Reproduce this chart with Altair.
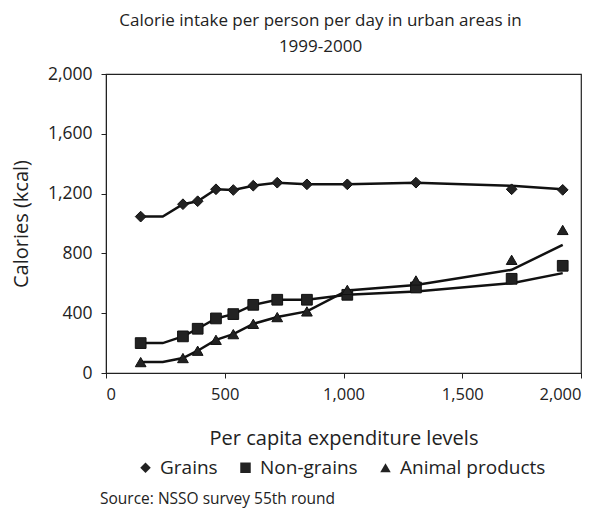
import altair as alt
import pandas as pd

FONT = "Open Sans"

series_names = ["Grains", "Non-grains", "Animal products"]

# marker positions (per capita expenditure) and values
marker_x = [146, 324, 386, 463, 536, 620, 721, 846, 1016, 1305, 1708, 1923]
grains = [1046, 1129, 1149, 1229, 1224, 1253, 1273, 1262, 1262, 1273, 1229, 1225]
non_grains = [200, 245, 296, 365, 394, 456, 490, 490, 523, 572, 630, 717]
animal = [73, 100, 149, 222, 260, 329, 374, 412, 556, 619, 757, 957]

# trend line
line_x = [146, 239, 324, 386, 463, 536, 620, 721, 846, 1016, 1305, 1708, 1923]
grains_line = [1046, 1046, 1129, 1149, 1229, 1224, 1253, 1273, 1262, 1262, 1273, 1252, 1229]
non_grains_line = [200, 200, 245, 296, 365, 394, 456, 490, 490, 523, 545, 601, 668]
animal_line = [73, 73, 100, 149, 222, 260, 329, 374, 412, 552, 588, 690, 857]

rows = []
for name, vals in zip(series_names, [grains, non_grains, animal]):
    for x, y in zip(marker_x, vals):
        rows.append({"series": name, "x": x, "y": y})
markers_df = pd.DataFrame(rows)

lrows = []
for name, vals in zip(series_names, [grains_line, non_grains_line, animal_line]):
    for i, (x, y) in enumerate(zip(line_x, vals)):
        lrows.append({"series": name, "x": x, "y": y, "order": i})
lines_df = pd.DataFrame(lrows)

xenc = alt.X("x:Q", scale=alt.Scale(domain=[0, 2000], nice=False),
             axis=alt.Axis(values=[0, 500, 1000, 1500, 2000], format=",.0f",
                           title="Per capita expenditure levels",
                           titleFontSize=20, titleFont=FONT, titleFontWeight="normal",
                           titlePadding=26, labelFontSize=16.5, labelFont=FONT,
                           labelColor="#222", titleColor="#222",
                           domainColor="#222", tickColor="#222", tickSize=5,
                           grid=False, labelPadding=8))
yenc = alt.Y("y:Q", scale=alt.Scale(domain=[0, 2000], nice=False),
             axis=alt.Axis(values=[0, 400, 800, 1200, 1600, 2000], format=",.0f",
                           title="Calories (kcal)",
                           titleFontSize=20, titleFont=FONT, titleFontWeight="normal",
                           titlePadding=16, labelFontSize=17.5, labelFont=FONT,
                           labelColor="#222", titleColor="#222",
                           domainColor="#222", tickColor="#222", tickSize=5,
                           grid=False, labelPadding=9))

lines = alt.Chart(lines_df).mark_line(color="#111", strokeWidth=2.5).encode(
    x=xenc, y=yenc, detail="series:N", order="order:Q")

points = alt.Chart(markers_df).mark_point(filled=True, size=115, opacity=1,
                                          stroke="#111", strokeWidth=1).encode(
    x="x:Q", y="y:Q",
    shape=alt.Shape("series:N",
                    scale=alt.Scale(domain=series_names,
                                    range=["diamond", "square", "triangle-up"]),
                    legend=alt.Legend(title=None, orient="none", direction="horizontal",
                                      legendX=30, legendY=384,
                                      labelFontSize=19, labelFont=FONT, labelColor="#222",
                                      symbolFillColor="#222", symbolStrokeColor="#222",
                                      symbolSize=110, columnPadding=18, labelOffset=5)),
    color=alt.value("#222"))

source_df = pd.DataFrame({"t": ["Source: NSSO survey 55th round"]})
source = alt.Chart(source_df).mark_text(align="left", baseline="middle", fontSize=15.5,
                                        font=FONT, color="#222").encode(
    text="t:N", x=alt.value(-6), y=alt.value(425))

chart = alt.layer(lines, points, source).properties(
    width=475, height=299,
    title=alt.TitleParams(["Calorie intake per person per day in urban areas in", "1999-2000"],
                          fontSize=17, font=FONT, fontWeight="normal", color="#222",
                          anchor="middle", dx=-23, offset=9, lineHeight=26),
    autosize=alt.AutoSizeParams(type="none"),
    padding={"left": 98, "top": 66, "right": 15, "bottom": 136},
).configure_view(stroke="#222", strokeWidth=1.2)

chart.save("out.html", embed_options={"renderer": "svg", "actions": False})
